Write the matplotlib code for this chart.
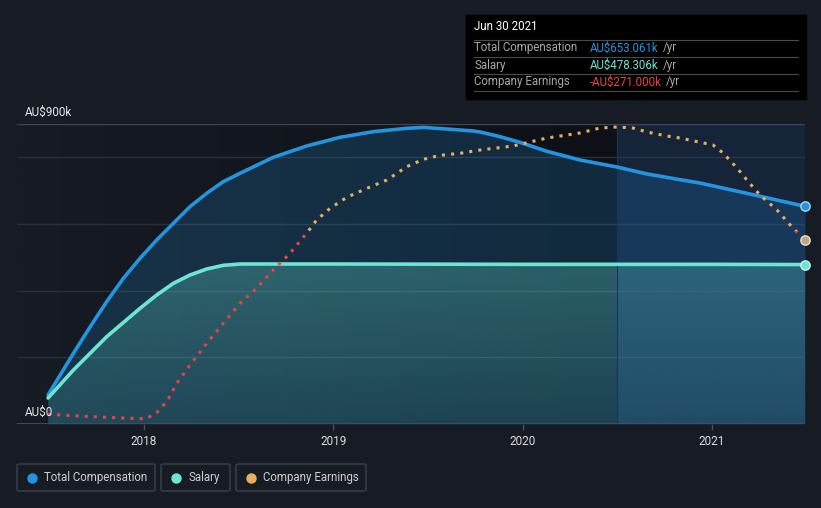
import numpy as np
import matplotlib.pyplot as plt
from matplotlib.patches import Rectangle, FancyBboxPatch
from matplotlib.colors import to_rgb
from matplotlib.transforms import offset_copy

plt.rcParams['font.family'] = ['Roboto', 'DejaVu Sans']

# values in AU$ thousands, x in decimal years
comp_x = [2017.493, 2017.627, 2017.715, 2017.803, 2017.891, 2017.979, 2018.067, 2018.155,
          2018.243, 2018.331, 2018.419, 2018.507, 2018.683, 2018.859, 2019.035, 2019.211,
          2019.388, 2019.475, 2019.669, 2019.738, 2019.776, 2019.881, 2019.986, 2020.129,
          2020.303, 2020.499, 2020.658, 2020.832, 2020.937, 2021.201, 2021.492]
comp_y = [87, 212, 291, 367, 437, 497, 552, 602, 652, 692, 727, 752, 800, 834, 860, 877,
          887, 890, 882, 879, 876, 862, 845, 818, 792, 771, 750, 733, 723, 690, 653.061]

salary_x = [2017.493, 2017.627, 2017.803, 2017.979, 2018.067, 2018.155, 2018.243, 2018.331,
            2018.419, 2018.507, 2019.0, 2020.0, 2021.0, 2021.492]
salary_y = [78, 162, 262, 347, 387, 422, 447, 465, 476, 480, 480, 479, 479, 478.306]

earn_x = [2017.493, 2017.627, 2017.805, 2017.979, 2018.014, 2018.067, 2018.120, 2018.173,
          2018.243, 2018.331, 2018.419, 2018.507, 2018.595, 2018.683, 2018.771, 2018.859,
          2018.912, 2018.983, 2019.071, 2019.177, 2019.283, 2019.388, 2019.476, 2019.564,
          2019.669, 2019.776, 2019.949, 2020.129, 2020.303, 2020.409, 2020.499, 2020.583,
          2020.657, 2020.763, 2020.831, 2021.006, 2021.059, 2021.133, 2021.185, 2021.254,
          2021.344, 2021.428, 2021.492]
earn_y = [29, 25, 20, 16, 17, 34, 67, 122, 177, 242, 302, 362, 407, 462, 512, 572, 612, 647,
          680, 707, 732, 772, 794, 806, 812, 822, 834, 858, 873, 888, 891, 888, 876, 864, 858,
          837, 813, 768, 732, 687, 642, 588, 552]

year_ticks = [2018, 2019, 2020, 2021]
tip_rows = [('Total Compensation', 'AU$653.061k', '#2394df'),
            ('Salary', 'AU$478.306k', '#6ce5d2'),
            ('Company Earnings', '-AU$271.000k', '#e84545')]
legend_items = [('Total Compensation', '#2394df'), ('Salary', '#6ce5d2'), ('Company Earnings', '#e9ae5e')]

BG = '#161b24'
BLUE = '#2394df'
TEAL = '#6ce5d2'
ORANGE = '#e9ae5e'
RED = '#e84545'
x0, x1 = 2017.329, 2021.492
hover = 2020.499

fig = plt.figure(figsize=(8.21, 5.08), dpi=100, facecolor=BG)
ax = fig.add_axes([17 / 821, 84 / 508, 788 / 821, 300 / 508])
ax.set_facecolor(BG)
ax.set_xlim(x0, x1)
ax.set_ylim(0, 900)
for s in ax.spines.values():
    s.set_visible(False)
ax.set_yticks([])

# background darkening towards the hover line
grad = np.linspace(0, 1, 256).reshape(1, -1)
c0, c1 = np.array(to_rgb('#161b24')), np.array(to_rgb('#0d1016'))
img = c0 + (c1 - c0) * grad[..., None]
ax.imshow(img, extent=[x0, hover, 0, 900], aspect='auto', zorder=0)

# grid
for v in [200, 400, 600, 800]:
    ax.axhline(v, color='#2a303a', lw=1, zorder=1)
ax.axhline(900, color='#40454e', lw=1, zorder=1)
ax.axhline(0, color='#4a4f58', lw=1.2, zorder=6)

# total compensation fill
ax.fill_between(comp_x, 0, comp_y, color=BLUE, alpha=0.2, lw=0, zorder=2)

# salary fill with vertical gradient
poly = ax.fill_between(salary_x, 0, salary_y, color='none', lw=0, zorder=3)
alpha = np.linspace(0.13, 0.29, 256).reshape(-1, 1)
simg = np.zeros((256, 1, 4))
simg[..., :3] = to_rgb(TEAL)
simg[..., 3] = alpha
im = ax.imshow(simg, extent=[x0, x1, 0, 480], origin='lower', aspect='auto', zorder=3)
im.set_clip_path(poly.get_paths()[0], transform=ax.transData)

# highlighted region after hover line
ax.add_patch(Rectangle((hover, 0), x1 - hover, 900, color='#1a5bb5', alpha=0.15, lw=0, zorder=4))
ax.axvline(hover, color='#1c3556', lw=0.8, zorder=4)

ax.plot(comp_x, comp_y, color=BLUE, lw=2.6, zorder=7, solid_capstyle='round', solid_joinstyle='round')
ax.plot(salary_x, salary_y, color=TEAL, lw=2.6, zorder=7, solid_capstyle='round', solid_joinstyle='round')

# earnings dotted line, red below threshold
thr = 580
for col, (lo, hi) in [(ORANGE, (thr, 950)), (RED, (-50, thr))]:
    ln, = ax.plot(earn_x, earn_y, color=col, lw=2.2, ls=(0, (1, 2)), zorder=8,
                  dash_capstyle='butt')
    r = Rectangle((x0, lo), x1 - x0 + 0.1, hi - lo, transform=ax.transData)
    ln.set_clip_path(r)

# end markers
ax.scatter([comp_x[-1]], [comp_y[-1]], s=45, color=BLUE, edgecolor='#a6d4f5', lw=1, zorder=9, clip_on=False)
ax.scatter([earn_x[-1]], [earn_y[-1]], s=45, color='#c4a57a', edgecolor='#e6e0d6', lw=1, zorder=9, clip_on=False)
ax.scatter([salary_x[-1]], [salary_y[-1]], s=45, color=TEAL, edgecolor='#c8f4ee', lw=1, zorder=9, clip_on=False)

# axis labels
ax.set_xticks(year_ticks)
ax.set_xticklabels([str(y) for y in year_ticks])
ax.tick_params(axis='x', colors='#4a4f58', length=4, width=1, labelcolor='#dcdcdc',
               labelsize=8.5, pad=4)
ax.text(2017.37, 915, 'AU\\$900k', color='#e6e6e6', fontsize=8.5, va='bottom', ha='left')
ax.text(2017.37, 15, 'AU\\$0', color='#e6e6e6', fontsize=8.5, va='bottom', ha='left', zorder=10)

# tooltip
W, H = 821, 508
def fx(p):
    return p / W
def fy(p):
    return 1 - p / H
fig.patches.append(Rectangle((fx(466), fy(99)), fx(806) - fx(466), fy(15) - fy(99),
                             transform=fig.transFigure, color='#000000', zorder=20))
fig.text(fx(474), fy(27), 'Jun 30 2021', color='#ffffff', fontsize=8.3, va='center', zorder=21)
renderer = fig.canvas.get_renderer()
for i, (lab, val, col) in enumerate(tip_rows):
    yy = 48 + i * 17
    fig.add_artist(plt.Line2D([fx(474), fx(798)], [fy(yy - 8.5), fy(yy - 8.5)],
                              transform=fig.transFigure, color='#4a4a4a', lw=0.8, zorder=21))
    fig.text(fx(474), fy(yy), lab, color='#a8a8a8', fontsize=8.3, va='center', zorder=21)
    t = fig.text(fx(590), fy(yy), val.replace('$', '\\$'), color=col, fontsize=8.3, va='center', zorder=21)
    wpx = t.get_window_extent(renderer).width
    fig.text(fx(590 + wpx + 4), fy(yy), '/yr', color='#a8a8a8', fontsize=8.3, va='center', zorder=21)
fig.add_artist(plt.Line2D([fx(474), fx(798)], [fy(91), fy(91)],
                          transform=fig.transFigure, color='#4a4a4a', lw=0.8, zorder=21))

# legend boxes
boxes = [(17, 155), (161, 230), (236, 366)]
for (bx0, bx1), (lab, col) in zip(boxes, legend_items):
    fig.patches.append(FancyBboxPatch((fx(bx0), fy(491)), fx(bx1) - fx(bx0), fy(464) - fy(491),
                                      boxstyle='round,pad=0,rounding_size=0.003',
                                      transform=fig.transFigure, facecolor='none',
                                      edgecolor='#3c424c', lw=1))
    fig.add_artist(plt.Line2D([fx(bx0 + 15)], [fy(477.5)], marker='o', markersize=6.5,
                              color=col, transform=fig.transFigure, lw=0))
    fig.text(fx(bx0 + 27), fy(477.5), lab, color='#cfcfcf', fontsize=8.3, va='center')

fig.savefig('out.png', dpi=100, facecolor=BG)
